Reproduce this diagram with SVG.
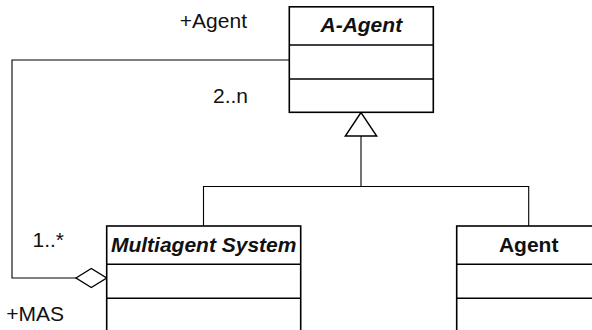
<svg xmlns="http://www.w3.org/2000/svg" width="592" height="330" viewBox="0 0 592 330">
<style>
.box{fill:#fff;stroke:#000;stroke-width:1.6}
.div{stroke:#000;stroke-width:1.6}
.ln{fill:none;stroke:#000;stroke-width:1.1}
.t{font-family:"Liberation Sans",Arial,sans-serif;font-size:21px;fill:#111}
.title{font-family:"Liberation Sans",Arial,sans-serif;font-size:21px;font-weight:bold;fill:#111}
</style>
<rect width="592" height="330" fill="#fff"/>
<g id="connectors">
<polyline class="ln" points="289,60 12,60 12,278 76,278"/>
<polygon points="76,278 91.3,268.5 106.7,278 91.3,287.5" fill="#fff" stroke="#000" stroke-width="1.4"/>
<polyline class="ln" points="361,136 361,186.5"/>
<polyline class="ln" points="203.5,226 203.5,186.5 528.7,186.5 528.7,226"/>
<polygon points="361,112.5 345.3,136 376.7,136" fill="#fff" stroke="#000" stroke-width="1.4"/>
<text class="t" x="247" y="27.5" text-anchor="end">+Agent</text>
<text class="t" x="248" y="103" text-anchor="end">2..n</text>
<text class="t" x="64" y="247" text-anchor="end">1..*</text>
<text class="t" x="64" y="321" text-anchor="end">+MAS</text>
</g>
<g id="node-a-agent">
<rect class="box" x="289.3" y="6.8" width="144" height="105.5"/>
<line class="div" x1="289.3" y1="45" x2="433.3" y2="45"/>
<line class="div" x1="289.3" y1="79" x2="433.3" y2="79"/>
<text class="title" x="361.3" y="32" text-anchor="middle" font-style="italic">A-Agent</text>
</g>
<g id="node-multiagent-system">
<rect class="box" x="106.7" y="226" width="194" height="120"/>
<line class="div" x1="106.7" y1="264.3" x2="300.7" y2="264.3"/>
<line class="div" x1="106.7" y1="298.3" x2="300.7" y2="298.3"/>
<text class="title" x="203.7" y="252" text-anchor="middle" font-style="italic">Multiagent System</text>
</g>
<g id="node-agent">
<rect class="box" x="456.7" y="226" width="144" height="120"/>
<line class="div" x1="456.7" y1="264.3" x2="600.7" y2="264.3"/>
<line class="div" x1="456.7" y1="298.3" x2="600.7" y2="298.3"/>
<text class="title" x="528.7" y="252" text-anchor="middle">Agent</text>
</g>
</svg>
